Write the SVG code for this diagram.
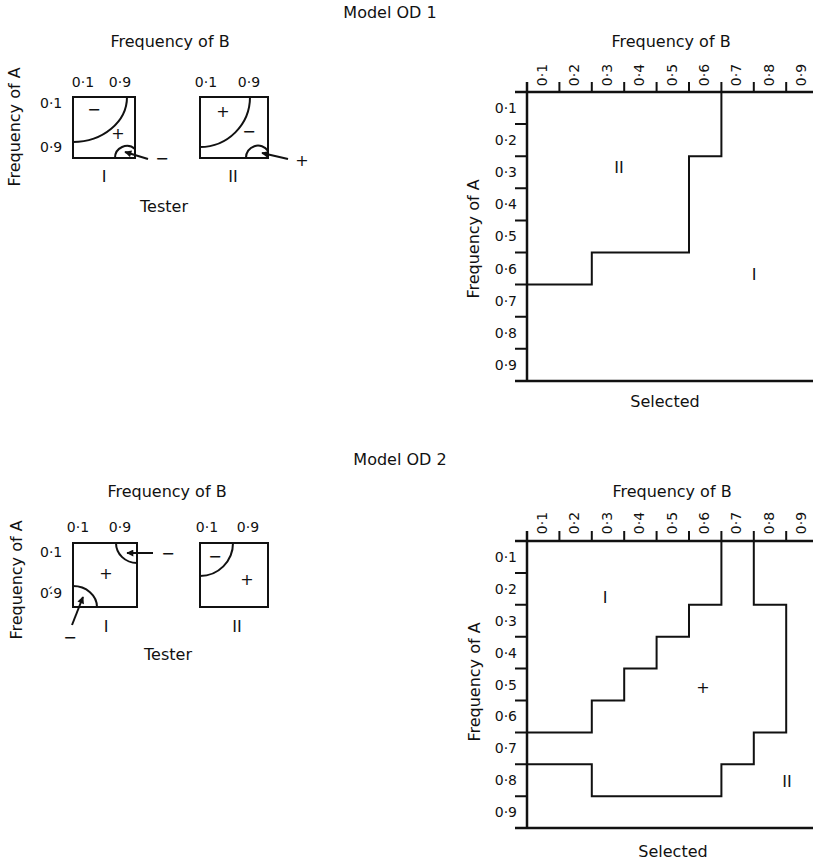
<svg xmlns="http://www.w3.org/2000/svg" width="813" height="862" viewBox="0 0 813 862">
<style>
text{font-family:"DejaVu Sans","Liberation Sans",sans-serif;fill:#111;}
.t{font-size:16px;}
.n{font-size:14px;}
.c{text-anchor:middle;}
.e{text-anchor:end;}
.ln{stroke:#111;fill:none;stroke-width:2;}
.ax{stroke:#111;fill:none;stroke-width:2.5;}
.tk{stroke:#111;fill:none;stroke-width:2;}
</style>
<defs>
<marker id="ah" viewBox="0 0 10 10" refX="9" refY="5" markerWidth="9" markerHeight="7" markerUnits="userSpaceOnUse" orient="auto"><path d="M0,0 L10,5 L0,10 z" fill="#111"/></marker>
</defs>
<rect width="813" height="862" fill="#fff"/>

<!-- Titles -->
<g id="title1"><text class="t c" x="390" y="18">Model OD 1</text></g>
<g id="title2"><text class="t c" x="400" y="465">Model OD 2</text></g>

<!-- ===== Model OD 1 tester ===== -->
<g id="tester1">
<text class="t c" x="170" y="47">Frequency of B</text>
<text class="t c" transform="translate(20,127) rotate(-90)">Frequency of A</text>
<text class="n c" x="83" y="87">0·1</text>
<text class="n c" x="120" y="87">0·9</text>
<text class="n c" x="206" y="87">0·1</text>
<text class="n c" x="249" y="87">0·9</text>
<text class="n" x="40" y="108">0·1</text>
<text class="n" x="40" y="152">0·9</text>
<text class="t c" x="164" y="212">Tester</text>
</g>
<g id="tester1-I">
<rect class="ln" x="73" y="97" width="62" height="61"/>
<path class="ln" d="M73,142 A54,45 0 0 0 127,97"/>
<path class="ln" d="M115,158 A12,12 0 0 1 135,149"/>
<text class="t c" x="94" y="115">−</text>
<text class="t c" x="118" y="139">+</text>
<text class="t c" x="104" y="182">I</text>
<text class="t c" x="162" y="164">−</text>
</g>
<g id="tester1-II">
<rect class="ln" x="200" y="97" width="68" height="61"/>
<path class="ln" d="M200,147 A50,50 0 0 0 250,97"/>
<path class="ln" d="M246,158 A12,12 0 0 1 268,151"/>
<text class="t c" x="223" y="117">+</text>
<text class="t c" x="249" y="137">−</text>
<text class="t c" x="233" y="182">II</text>
<text class="t c" x="302" y="166">+</text>
</g>

<!-- ===== Model OD 1 selected chart ===== -->
<g id="chart1">
<text class="t c" x="671" y="47">Frequency of B</text>
<text class="t c" transform="translate(479,239) rotate(-90)">Frequency of A</text>
<path class="ax" d="M515,92 H813 M527,82 V381 M515,381 H813"/>
<path class="tk" d="M559.4,82 V92 M591.8,82 V92 M624.2,82 V92 M656.6,82 V92 M689,82 V92 M721.4,82 V92 M753.8,82 V92 M786.2,82 V92"/>
<path class="tk" d="M515,124.1 H527 M515,156.2 H527 M515,188.3 H527 M515,220.4 H527 M515,252.5 H527 M515,284.6 H527 M515,316.7 H527 M515,348.8 H527"/>
<g class="n c">
<text class="n c" transform="translate(547,75) rotate(-90)">0·1</text>
<text class="n c" transform="translate(579.4,75) rotate(-90)">0·2</text>
<text class="n c" transform="translate(611.8,75) rotate(-90)">0·3</text>
<text class="n c" transform="translate(644.2,75) rotate(-90)">0·4</text>
<text class="n c" transform="translate(676.6,75) rotate(-90)">0·5</text>
<text class="n c" transform="translate(709,75) rotate(-90)">0·6</text>
<text class="n c" transform="translate(741.4,75) rotate(-90)">0·7</text>
<text class="n c" transform="translate(773.8,75) rotate(-90)">0·8</text>
<text class="n c" transform="translate(806.2,75) rotate(-90)">0·9</text>
</g>
<text class="n e" x="517" y="113">0·1</text>
<text class="n e" x="517" y="145">0·2</text>
<text class="n e" x="517" y="177">0·3</text>
<text class="n e" x="517" y="209">0·4</text>
<text class="n e" x="517" y="241">0·5</text>
<text class="n e" x="517" y="274">0·6</text>
<text class="n e" x="517" y="306">0·7</text>
<text class="n e" x="517" y="338">0·8</text>
<text class="n e" x="517" y="370">0·9</text>
<path class="ln" d="M721.4,92 V156.2 H689 V252.5 H591.8 V284.6 H527"/>
<text class="t c" x="619" y="173">II</text>
<text class="t c" x="754" y="280">I</text>
<text class="t c" x="665" y="407">Selected</text>
</g>

<!-- ===== Model OD 2 tester ===== -->
<g id="tester2">
<text class="t c" x="167" y="497">Frequency of B</text>
<text class="t c" transform="translate(22,580) rotate(-90)">Frequency of A</text>
<text class="n c" x="78" y="532">0·1</text>
<text class="n c" x="120" y="532">0·9</text>
<text class="n c" x="207" y="532">0·1</text>
<text class="n c" x="248" y="532">0·9</text>
<text class="n" x="40" y="557">0·1</text>
<text class="n" x="40" y="598">0·́9</text>
<text class="t c" x="168" y="660">Tester</text>
</g>
<g id="tester2-I">
<rect class="ln" x="73" y="543" width="64" height="64"/>
<path class="ln" d="M116,543 A21,20 0 0 0 137,563"/>
<path class="ln" d="M73,586 A24,21 0 0 1 97,607"/>
<text class="t c" x="106" y="579">+</text>
<text class="t c" x="106" y="632">I</text>
<text class="t c" x="168" y="559">−</text>
<text class="t c" x="70" y="643">−</text>
</g>
<g id="tester2-II">
<rect class="ln" x="200" y="543" width="68" height="64"/>
<path class="ln" d="M200,576 A33,33 0 0 0 233,543"/>
<text class="t c" x="215" y="562">−</text>
<text class="t c" x="247" y="585">+</text>
<text class="t c" x="237" y="632">II</text>
</g>

<!-- ===== Model OD 2 selected chart ===== -->
<g id="chart2">
<text class="t c" x="672" y="497">Frequency of B</text>
<text class="t c" transform="translate(480,682) rotate(-90)">Frequency of A</text>
<path class="ax" d="M515,541 H813 M527,531 V828 M515,828 H813"/>
<path class="tk" d="M559.4,531 V541 M591.8,531 V541 M624.2,531 V541 M656.6,531 V541 M689,531 V541 M721.4,531 V541 M753.8,531 V541 M786.2,531 V541"/>
<path class="tk" d="M515,572.9 H527 M515,604.8 H527 M515,636.7 H527 M515,668.6 H527 M515,700.5 H527 M515,732.4 H527 M515,764.3 H527 M515,796.2 H527"/>
<text class="n c" transform="translate(547,523) rotate(-90)">0·1</text>
<text class="n c" transform="translate(579.4,523) rotate(-90)">0·2</text>
<text class="n c" transform="translate(611.8,523) rotate(-90)">0·3</text>
<text class="n c" transform="translate(644.2,523) rotate(-90)">0·4</text>
<text class="n c" transform="translate(676.6,523) rotate(-90)">0·5</text>
<text class="n c" transform="translate(709,523) rotate(-90)">0·6</text>
<text class="n c" transform="translate(741.4,523) rotate(-90)">0·7</text>
<text class="n c" transform="translate(773.8,523) rotate(-90)">0·8</text>
<text class="n c" transform="translate(806.2,523) rotate(-90)">0·9</text>
<text class="n e" x="517" y="562">0·1</text>
<text class="n e" x="517" y="594">0·2</text>
<text class="n e" x="517" y="626">0·3</text>
<text class="n e" x="517" y="658">0·4</text>
<text class="n e" x="517" y="690">0·5</text>
<text class="n e" x="517" y="721">0·6</text>
<text class="n e" x="517" y="753">0·7</text>
<text class="n e" x="517" y="785">0·8</text>
<text class="n e" x="517" y="817">0·9</text>
<path class="ln" d="M721.4,541 V604.8 H689 V636.7 H656.6 V668.6 H624.2 V700.5 H591.8 V732.4 H527"/>
<path class="ln" d="M753.8,541 V604.8 H786.2 V732.4 H753.8 V764.3 H721.4 V796.2 H591.8 V764.3 H527"/>
<text class="t c" x="605" y="603">I</text>
<text class="t c" x="703" y="693">+</text>
<text class="t c" x="787" y="787">II</text>
<text class="t c" x="673" y="857">Selected</text>
</g>

<!-- Connectors (arrows) -->
<g id="connectors">
<line class="ln" stroke-width="1.8" x1="148" y1="159" x2="125" y2="152" marker-end="url(#ah)"/>
<line class="ln" stroke-width="1.8" x1="288" y1="159" x2="262" y2="153" marker-end="url(#ah)"/>
<line class="ln" stroke-width="1.8" x1="153" y1="553" x2="127" y2="553" marker-end="url(#ah)"/>
<line class="ln" stroke-width="1.8" x1="72" y1="625" x2="83" y2="597" marker-end="url(#ah)"/>
</g>
</svg>
